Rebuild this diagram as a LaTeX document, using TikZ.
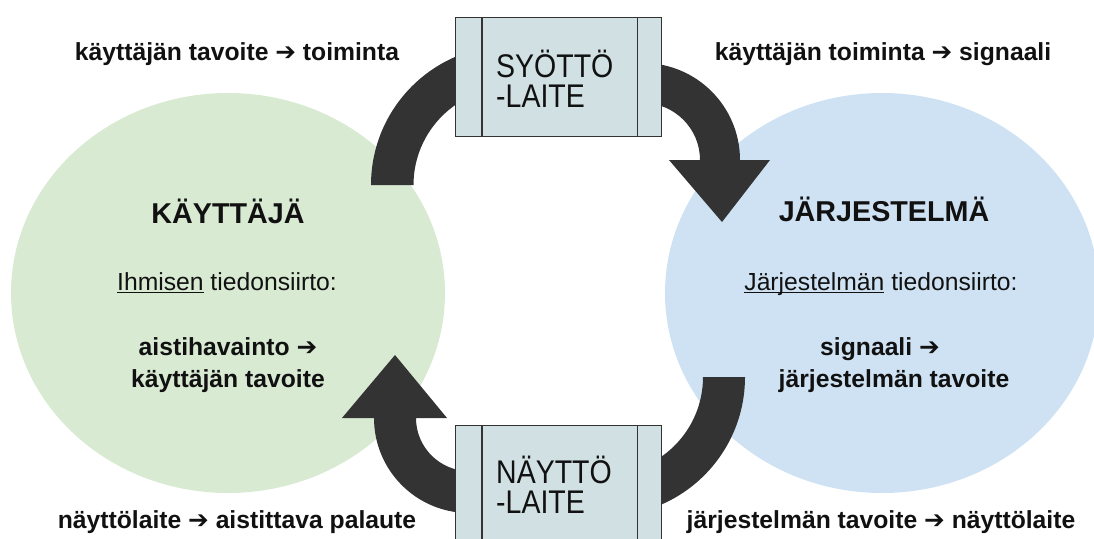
\documentclass[tikz,border=0pt]{standalone}
\usepackage{fontspec}
\usepackage{graphicx}
\setmainfont{Liberation Sans}
\newfontfamily\arrowfont{DejaVu Sans}
\usetikzlibrary{shapes.geometric}
\definecolor{userc}{HTML}{D9EAD3}
\definecolor{sysc}{HTML}{CFE2F3}
\definecolor{boxc}{HTML}{D0E0E3}
\definecolor{bandc}{HTML}{333333}
\definecolor{linec}{HTML}{333333}
\definecolor{txtc}{HTML}{111111}
\newcommand\harr{{\arrowfont\bfseries\char"2794}}
\newcommand\myul[1]{\setbox0\hbox{#1}\rlap{\rule[-3.2pt]{\wd0}{1.3pt}}\box0\relax}
\newcommand\tallw[1]{\scalebox{1}[1.15]{#1}}
\begin{document}
\begin{tikzpicture}[x=1pt,y=-1pt,
  lbl/.style={font=\fontsize{24.7}{32}\selectfont\bfseries, text=txtc, inner sep=0, anchor=base, align=center},
  ttl/.style={font=\fontsize{28.7}{34}\selectfont\bfseries, text=txtc, inner sep=0, anchor=base},
  sub/.style={font=\fontsize{24.7}{30}\selectfont, text=txtc, inner sep=0, anchor=base},
  dev/.style={font=\fontsize{28.5}{30}\selectfont, text=txtc, inner sep=0, anchor=base west, align=left},
  blob/.style={ellipse, inner sep=0, minimum width=434pt, minimum height=400pt},
  devbox/.style={fill=boxc, draw=linec, line width=1.2pt, inner sep=0, minimum width=206pt, minimum height=119pt, anchor=north west},
  band/.style={fill=bandc}]
\useasboundingbox (0,0) rectangle (1094,538);
\clip (0,0) rectangle (1094,538);
% ellipses
\node[blob, fill=userc] (user) at (228,293) {};
\node[blob, fill=sysc] (sys) at (882,293) {};
% top curved arrow
\fill[band] (371,185) arc[start angle=180, end angle=90, radius=139.5pt]
  -- (643,63) arc[start angle=90, end angle=0, radius=97pt]
  -- (770,160) -- (722,222) -- (669,160) -- (700,160)
  arc[start angle=0, end angle=90, radius=57pt]
  -- (511,87.5) arc[start angle=90, end angle=180, radius=97.5pt]
  -- cycle;
% bottom curved arrow
\fill[band] (745,377) arc[start angle=0, end angle=-90, radius=139pt]
  -- (469,513) arc[start angle=-90, end angle=-180, radius=95pt]
  -- (342,418) -- (395,355) -- (447,418) -- (416,418)
  arc[start angle=180, end angle=270, radius=53pt]
  -- (606,474) arc[start angle=270, end angle=360, radius=97pt]
  -- cycle;
% device boxes
\node[devbox] (input) at (455,17) {};
\draw[linec, line width=1.2pt] ([xshift=27pt]input.north west) -- ([xshift=27pt]input.south west);
\draw[linec, line width=1.2pt] ([xshift=-25pt]input.north east) -- ([xshift=-25pt]input.south east);
\node[devbox, minimum height=130pt] (output) at (455,425) {};
\draw[linec, line width=1.2pt] ([xshift=27pt]output.north west) -- ([xshift=27pt]output.south west);
\draw[linec, line width=1.2pt] ([xshift=-25pt]output.north east) -- ([xshift=-25pt]output.south east);
\node[dev] (inputtxt) at (496,107) {\tallw{SYÖTTÖ}\\\tallw{-LAITE}};
\node[dev] (outputtxt) at (496,513) {\tallw{NÄYTTÖ}\\\tallw{-LAITE}};
% titles
\node[ttl] (usert) at (228,223) {KÄYTTÄJÄ};
\node[ttl] (syst) at (884,221) {JÄRJESTELMÄ};
\node[sub] (usersub) at (227,290) {\myul{Ihmisen} tiedonsiirto:};
\node[sub] (syssub) at (881,290) {\myul{Järjestelmän} tiedonsiirto:};
\node[lbl] (userflow) at (228,387) {aistihavainto \harr\\käyttäjän tavoite};
\node[lbl] (sysflow) at (880,387) {signaali \harr\\\hspace*{28pt}järjestelmän tavoite};
% corner labels
\node[lbl] (tl) at (237,60) {käyttäjän tavoite \harr{} toiminta};
\node[lbl] (tr) at (883,60) {käyttäjän toiminta \harr{} signaali};
\node[lbl] (bl) at (237,528) {näyttölaite \harr{} aistittava palaute};
\node[lbl] (br) at (881,528) {järjestelmän tavoite \harr{} näyttölaite};
\end{tikzpicture}
\end{document}
